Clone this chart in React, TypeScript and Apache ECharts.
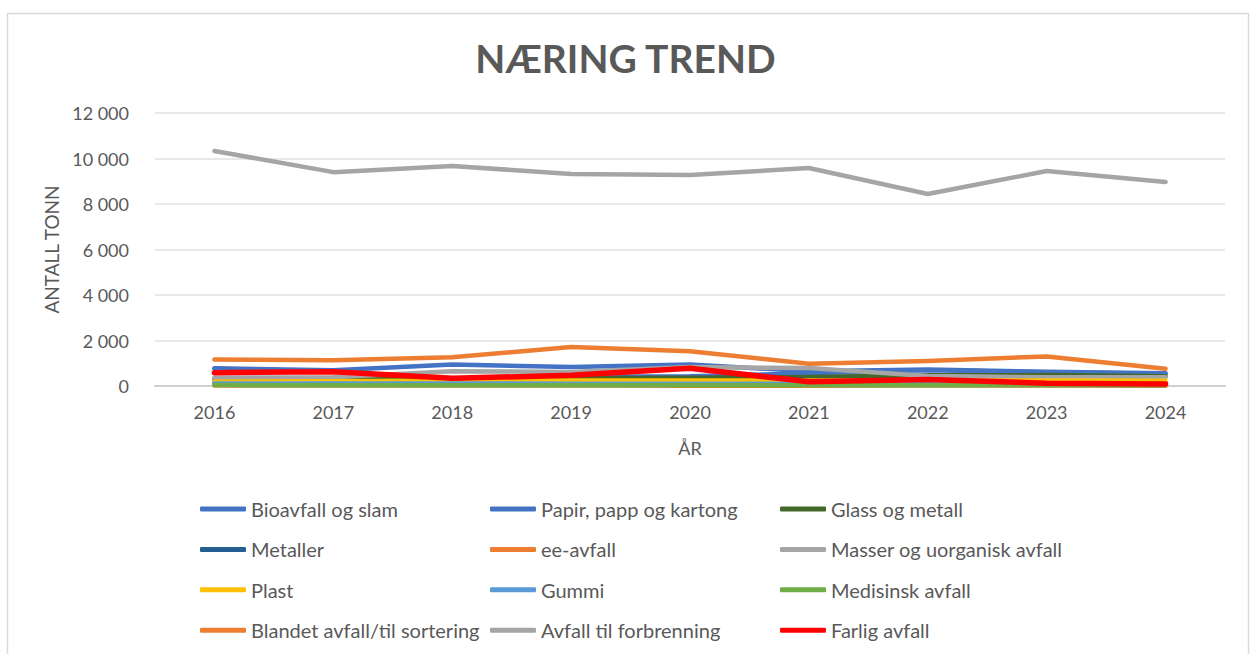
import React, { useEffect, useRef } from "react";
import * as echarts from "echarts";

const years = ["2016", "2017", "2018", "2019", "2020", "2021", "2022", "2023", "2024"];

const bioavfall = [780, 690, 940, 830, 950, 650, 720, 630, 560];
const papir = [760, 640, 300, 420, 430, 560, 690, 600, 540];
const glassMetall = [300, 310, 330, 350, 360, 400, 470, 480, 430];
const metaller = [150, 150, 160, 150, 150, 150, 140, 140, 140];
const eeAvfall = [25, 20, 20, 20, 15, 15, 20, 20, 15];
const masser = [365, 380, 650, 620, 830, 790, 440, 380, 380];
const plast = [190, 210, 240, 240, 240, 240, 230, 240, 230];
const gummi = [110, 110, 110, 100, 100, 100, 90, 90, 90];
const medisinsk = [40, 35, 35, 30, 30, 30, 30, 30, 30];
const blandet = [1170, 1130, 1260, 1710, 1530, 980, 1100, 1300, 760];
const forbrenning = [10330, 9400, 9670, 9320, 9270, 9580, 8440, 9450, 8970];
const farlig = [585, 630, 340, 470, 780, 190, 290, 120, 90];

const seriesDefs = [
  { name: "Bioavfall og slam", data: bioavfall, color: "#4472C4" },
  { name: "Papir, papp og kartong", data: papir, color: "#4472C4" },
  { name: "Glass og metall", data: glassMetall, color: "#43682B" },
  { name: "Metaller", data: metaller, color: "#255E91" },
  { name: "ee-avfall", data: eeAvfall, color: "#ED7D31" },
  { name: "Masser og uorganisk avfall", data: masser, color: "#A5A5A5" },
  { name: "Plast", data: plast, color: "#FFC000" },
  { name: "Gummi", data: gummi, color: "#5B9BD5" },
  { name: "Medisinsk avfall", data: medisinsk, color: "#70AD47" },
  { name: "Blandet avfall/til sortering", data: blandet, color: "#ED7D31" },
  { name: "Avfall til forbrenning", data: forbrenning, color: "#A5A5A5" },
  { name: "Farlig avfall", data: farlig, color: "#FF0000" },
];

const FONT = "Lato, 'Liberation Sans', sans-serif";
const TXT = "#595959";

export default function App() {
  const ref = useRef<HTMLDivElement>(null);
  useEffect(() => {
    document.body.style.margin = "0";
    const chart = echarts.init(ref.current!, null, { renderer: "svg" });
    const cols = [0, 1, 2].map((c) => seriesDefs.filter((_, i) => i % 3 === c).map((s) => s.name));
    const legendLefts = [195, 485, 775];
    chart.setOption({
      animation: false,
      backgroundColor: "#ffffff",
      textStyle: { fontFamily: FONT },
      title: {
        text: "NÆRING TREND",
        left: "center",
        top: 33,
        textStyle: { fontFamily: FONT, fontSize: 39, fontWeight: "bold", color: TXT },
      },
      graphic: [
        {
          type: "rect",
          shape: { x: 7.5, y: 13.5, width: 1241, height: 700 },
          style: { fill: "none", stroke: "#d9d9d9", lineWidth: 1.5 },
          silent: true,
        },
      ],
      grid: { left: 155, right: 26, top: 113, bottom: 268 },
      legend: cols.map((names, c) => ({
        orient: "vertical",
        left: legendLefts[c],
        top: 494,
        data: names,
        icon: "roundRect",
        itemWidth: 46,
        itemHeight: 5,
        itemGap: 20.4,
        textStyle: { fontFamily: FONT, fontSize: 20, color: TXT, padding: [0, 0, 0, 0] },
      })),
      xAxis: {
        type: "category",
        data: years,
        boundaryGap: true,
        name: "ÅR",
        nameLocation: "middle",
        nameGap: 53,
        nameTextStyle: { fontFamily: FONT, fontSize: 18, color: TXT },
        axisLine: { lineStyle: { color: "#d0d0d0", width: 2 } },
        axisTick: { show: false },
        axisLabel: { fontFamily: FONT, fontSize: 18, color: TXT, margin: 17 },
      },
      yAxis: {
        type: "value",
        min: 0,
        max: 12000,
        interval: 2000,
        name: "ANTALL TONN",
        nameLocation: "middle",
        nameGap: 94,
        nameTextStyle: { fontFamily: FONT, fontSize: 19, color: TXT },
        axisLine: { show: false },
        axisTick: { show: false },
        splitLine: { lineStyle: { color: "#e0e0e0", width: 1.5 } },
        axisLabel: {
          fontFamily: FONT,
          fontSize: 18,
          color: TXT,
          margin: 26,
          formatter: (v: number) => String(v).replace(/\B(?=(\d{3})+(?!\d))/g, " "),
        },
      },
      series: seriesDefs.map((s) => ({
        name: s.name,
        type: "line",
        data: s.data,
        showSymbol: false,
        symbol: "none",
        color: s.color,
        lineStyle: { color: s.color, width: s.name === "Farlig avfall" ? 5.5 : 4.5, cap: "round", join: "round" },
      })),
    });
    return () => chart.dispose();
  }, []);
  return <div ref={ref} style={{ position: "absolute", left: 0, top: 0, width: 1251, height: 654 }} />;
}
